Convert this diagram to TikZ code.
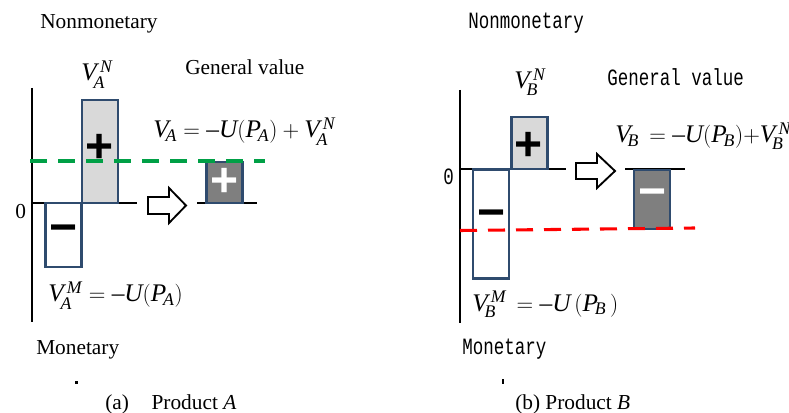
\documentclass[tikz,border=0pt]{standalone}
\usepackage{amsmath}
\usepackage{fontspec}
\setmainfont{Liberation Serif}
\newfontfamily\monof[FakeStretch=0.75]{Liberation Mono}
\newfontfamily\signf{Liberation Sans}
\definecolor{boxblue}{RGB}{47,75,110}
\definecolor{lightbar}{RGB}{217,217,217}
\definecolor{darkbar}{RGB}{127,127,127}
\definecolor{dgreen}{RGB}{0,160,70}
\definecolor{dred}{RGB}{255,0,0}
\newcommand\Vs[2]{\mathit{V}_{\!\mathit{#1}}^{\,\mathit{#2}}}
\newcommand\Vb[1]{\mathit{V}_{\!\mathit{#1}}}
\newcommand\Pb[1]{\mathit{P}_{\!\mathit{#1}}}
\begin{document}
\begin{tikzpicture}[x=0.75pt,y=-0.75pt,
  lbl/.style={inner sep=0pt, anchor=base west, font=\fontsize{16}{19}\selectfont},
  mlbl/.style={inner sep=0pt, anchor=base west, font=\monof\fontsize{17.5}{20}\selectfont},
  frm/.style={inner sep=0pt, anchor=base west, font=\fontsize{19}{22}\selectfont},
  axisline/.style={line width=1.4pt, black},
  bar/.style={draw=boxblue, line width=1.8pt, inner sep=0pt, minimum width=27pt},
  posbar/.style={bar, fill=lightbar},
  negbar/.style={bar, fill=white},
  resbar/.style={bar, fill=darkbar},
  sgn/.style={inner sep=0pt, font=\signf\bfseries\fontsize{36}{36}\selectfont},
  dashline/.style={line width=2.3pt, dash pattern=on 12.75pt off 8.25pt},
  bigarrow/.style={line width=1.4pt, black, fill=white, line join=miter},
  tickmark/.style={fill=black, draw=none}
]
\useasboundingbox (0,0) rectangle (789,413);

% ---------------- Panel (a) ----------------
\node[lbl] (nonA) at (40,29) {Nonmonetary};
\node[lbl] (genA) at (185,75) {General value};
\node[frm, anchor=base] (vnA) at (97,81) {$\Vs{A}{N}$};
\node[frm] (fA) at (153,138) {$\Vb{A}=\text{–}\mathit{U}\mathrm{(}\Pb{A}\mathrm{)}+\Vs{A}{N}$};
\node[frm] (vmA) at (48,302) {$\Vs{A}{M}=\text{–}\mathit{U}\mathrm{(}\Pb{A}\mathrm{)}$};
\node[lbl] (monA) at (36,354) {Monetary};
\node[lbl] (zeroA) at (15,219) {0};
\node[lbl] (capA) at (105,409) {(a)\hspace{17pt}Product \textit{A}};

\coordinate (axAtop) at (32,88);
\coordinate (axAbot) at (32,322);
\coordinate (zAend) at (137,203);
\coordinate (axAmid) at (32,203);
\draw[axisline] (axAtop) -- (axAbot);
\draw[axisline] (axAmid) -- (zAend);

\node[posbar, minimum height=77.25pt] (pA) at (100,151.5) {};
\node[negbar, minimum height=48pt] (nA) at (63.5,235) {};
\node[sgn] (pAs) at (100,148) {+};
\node[sgn] (nAs) at (64,234) {−};

\coordinate (rAl) at (197,203);
\coordinate (rAr) at (257,203);
\draw[axisline] (rAl) -- (rAr);
\node[resbar, minimum height=30.75pt] (rA) at (224.5,182.5) {};
\node[sgn, white] (rAs) at (225,182.5) {+};

\coordinate (gL) at (30,161);
\coordinate (gR) at (265,161);
\draw[dashline, dgreen] (gL) -- (gR);

\draw[bigarrow] (148,197) -- (169,197) -- (169,188) -- (186,205.5) -- (169,223) -- (169,214) -- (148,214) -- cycle;

\fill[tickmark] (75,381) rectangle (78,384);

% ---------------- Panel (b) ----------------
\node[mlbl] (nonB) at (468,29) {Nonmonetary};
\node[mlbl] (genB) at (607,86) {General value};
\node[frm, anchor=base] (vnB) at (530,89) {$\Vs{B}{N}$};
\node[frm] (fB) at (615,143) {$\Vb{B}\,=\text{–}\mathit{U}\mathrm{(}\Pb{B}\mathrm{)}{+}\Vs{B}{N}$};
\node[frm] (vmB) at (472,311) {$\Vs{B}{M}\,=\text{–}\mathit{U}\,\mathrm{(}\Pb{B}\,\mathrm{)}$};
\node[mlbl] (monB) at (462,354) {Monetary};
\node[mlbl] (zeroB) at (443,185) {0};
\node[lbl] (capB) at (515,409) {(b) Product \textit{B}};

\coordinate (axBtop) at (460,90);
\coordinate (axBbot) at (460,323);
\coordinate (axBmid) at (460,169);
\coordinate (zBend) at (566,169);
\draw[axisline] (axBtop) -- (axBbot);
\draw[axisline] (axBmid) -- (zBend);

\node[posbar, minimum height=39pt] (pB) at (529.5,143) {};
\node[negbar, minimum height=82pt] (nB) at (491,224) {};
\node[sgn] (pBs) at (528.5,146) {+};
\node[sgn] (nBs) at (491.5,219) {−};

\coordinate (rBl) at (625,169);
\coordinate (rBr) at (685,169);
\draw[axisline] (rBl) -- (rBr);
\node[resbar, minimum height=44pt] (rB) at (652,199.5) {};
\node[sgn, white] (rBs) at (653,198) {−};

\coordinate (rL) at (460,230.5);
\coordinate (rR) at (695,228);
\draw[dashline, dred] (rL) -- (rR);

\draw[bigarrow] (576,163) -- (597,163) -- (597,154) -- (615,171) -- (597,188) -- (597,179) -- (576,179) -- cycle;

\fill[tickmark] (502,379) rectangle (504,384);
\end{tikzpicture}
\end{document}
